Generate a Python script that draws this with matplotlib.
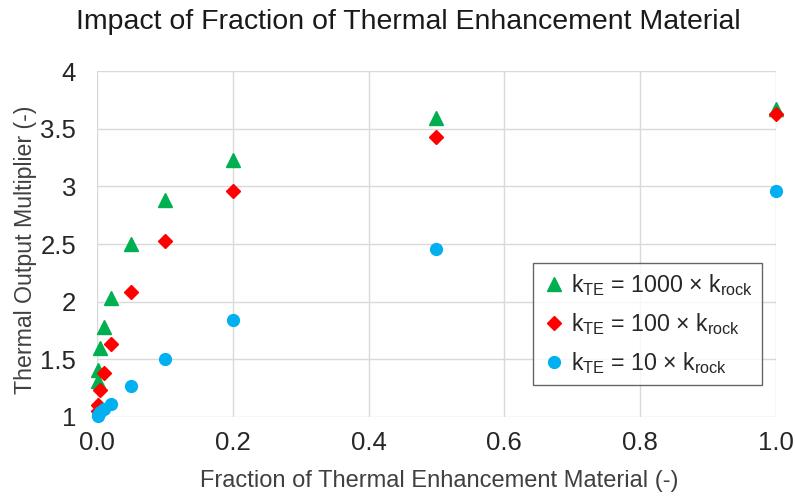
import matplotlib
matplotlib.use("Agg")
import matplotlib.pyplot as plt

plt.rcParams['font.family'] = ['Liberation Sans', 'DejaVu Sans']
plt.rcParams['mathtext.fontset'] = 'custom'
plt.rcParams['mathtext.rm'] = 'Liberation Sans'
plt.rcParams['mathtext.it'] = 'Liberation Sans'

fractions = [0.001, 0.002, 0.005, 0.01, 0.02, 0.05, 0.1, 0.2, 0.5, 1.0]
k1000 = [1.31, 1.41, 1.60, 1.78, 2.03, 2.50, 2.88, 3.23, 3.59, 3.67]
k100 = [1.05, 1.10, 1.23, 1.38, 1.63, 2.08, 2.53, 2.96, 3.43, 3.63]
k10 = [1.01, 1.02, 1.04, 1.07, 1.11, 1.27, 1.50, 1.84, 2.46, 2.96]

labels = [r'k$_{\mathrm{TE}}$ = 1000 × k$_{\mathrm{rock}}$',
          r'k$_{\mathrm{TE}}$ = 100 × k$_{\mathrm{rock}}$',
          r'k$_{\mathrm{TE}}$ = 10 × k$_{\mathrm{rock}}$']
xticks = [0.0, 0.2, 0.4, 0.6, 0.8, 1.0]
yticks = [1, 1.5, 2, 2.5, 3, 3.5, 4]

fig = plt.figure(figsize=(7.95, 4.98), dpi=100)
ax = fig.add_axes([0.122, 0.163, 0.854, 0.694])

ax.plot(fractions, k1000, linestyle='none', marker='^', color='#00B050', markersize=10, label=labels[0], clip_on=False)
ax.plot(fractions, k100, linestyle='none', marker='D', color='#FF0000', markersize=7.5, label=labels[1], clip_on=False)
ax.plot(fractions, k10, linestyle='none', marker='o', color='#00B0F0', markersize=8.5, label=labels[2], clip_on=False)

ax.set_xlim(0, 1)
ax.set_ylim(1, 4)
ax.set_xticks(xticks)
ax.set_xticklabels([f'{v:.1f}' for v in xticks])
ax.set_yticks(yticks)
ax.set_yticklabels([f'{v:g}' for v in yticks])
ax.grid(True, color='#D9D9D9', linewidth=1)
ax.set_axisbelow(True)
for s in ax.spines.values():
    s.set_visible(False)
ax.tick_params(length=0, labelsize=18.5, colors='#262626')
ax.tick_params(axis='y', pad=15)
ax.tick_params(axis='x', pad=10)

fig.text(26 / 795, 0.498, 'Thermal Output Multiplier (-)', rotation=90, ha='center', va='center',
         fontsize=16.7, color='#404040')
fig.text(0.5528, 0.034, 'Fraction of Thermal Enhancement Material (-)', ha='center', va='center',
         fontsize=17, color='#404040')
fig.text(0.513, 0.956, 'Impact of Fraction of Thermal Enhancement Material', ha='center', va='center',
         fontsize=20.5, color='#1a1a1a')

leg = ax.legend(loc='lower right', bbox_to_anchor=(0.979, 0.0925), borderaxespad=0, fontsize=16.7,
                frameon=True, fancybox=False, edgecolor='#404040', handletextpad=0.2, handlelength=1.0,
                borderpad=0.4, labelspacing=0.55)
leg.get_frame().set_linewidth(1.0)
for t in leg.get_texts():
    t.set_color('#262626')

fig.savefig('out.png', dpi=100)
